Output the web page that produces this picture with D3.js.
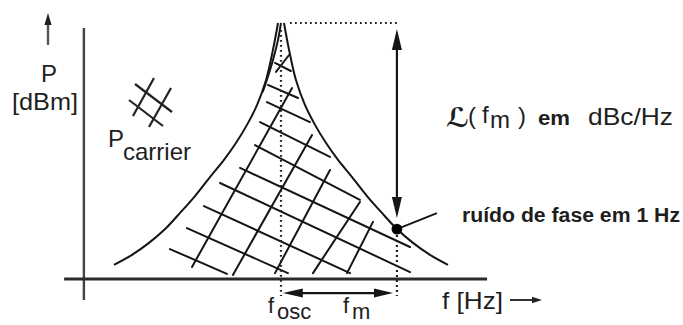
<!DOCTYPE html>
<html>
<head>
<meta charset="utf-8">
<script src="https://cdn.jsdelivr.net/npm/d3@7"></script>
<style>
  html, body { margin: 0; padding: 0; background: #fff; overflow: hidden; }
  svg { display: block; }
  text { font-family: "Liberation Sans", Arial, Helvetica, sans-serif; fill: #1e1e1e; }
</style>
</head>
<body>
<svg id="chart" width="683" height="325"></svg>
<script>
// ---- data -------------------------------------------------------------
// Single-sideband noise skirt: offset from the carrier (freq units) and level (dB)
const sidebandOffsets = [0.13, 0.35, 0.65, 1.04, 1.48, 1.96, 2.48, 3.09, 3.74, 4.39, 5.04, 5.74, 6.48, 7.26];
const sidebandLevels  = [0, -10.5, -22.3, -32.0, -39.8, -46.9, -53.5, -60.2, -67.6, -74.2, -80.5, -85.9, -90.6, -94.5];

// inner edge of the narrow carrier peak (left flank)
const peakEdgeOffsets = [0, -0.13, -0.35, -0.62, -0.8];
const peakEdgeLevels  = [0, -6.6, -14.5, -22.3, -27];

const carrierLevel = 0;      // P carrier
const fOsc = 0;              // oscillator frequency
const fm = 5.04;             // offset frequency
const noiseAtFm = -80.5;     // L(fm)
const floorLevel = -100;     // level of the frequency axis

// cross-hatch of the noise power: [offset1, level1, offset2, level2]
const hatchDown = [
  [-0.26, -15.6, 0.43, -18.75],
  [-0.57, -24.2, 0.74, -29.3],
  [-0.61, -30.9, 1.26, -38.7],
  [-0.91, -38.7, 2.13, -52.3],
  [-1.13, -47.7, 3.43, -69.1],
  [-1.78, -56.6, 5.61, -87.5],
  [-2.65, -62.5, 5.61, -97.3],
  [-3.35, -71.5, 3.00, -97.7],
  [-4.09, -80.1, 0.30, -97.7],
  [-4.83, -88.3, -2.35, -98.0]
];
const hatchUp = [
  [-3.87, -95.3, 0.48, -25.4],
  [-2.09, -98.4, 1.35, -43.75],
  [-0.26, -97.7, 2.13, -57.4],
  [1.39, -97.7, 3.43, -69.9],
  [2.87, -97.7, 4.00, -77.7],
  [-0.22, -19.1, 0.35, -12.5]
];

// axis extents
const freqAxisExtent = [-9.43, 8.96];
const powerAxisExtent = [-108.2, -2.0];
const powerAxisAt = -8.57;

// ---- scales -----------------------------------------------------------
const x = d3.scaleLinear().domain([-9, 9]).range([74, 488]);
const y = d3.scaleLinear().domain([-100, 0]).range([279, 23]);

const svg = d3.select("#chart");
const ink = "#151515";

function arrowHead(g, tx, ty, dx, dy, len, half, fill) {
  const bx = tx - dx * len, by = ty - dy * len;
  const px = -dy * half, py = dx * half;
  g.append("path")
    .attr("d", `M${tx},${ty}L${bx + px},${by + py}L${bx - px},${by - py}Z`)
    .attr("fill", fill || ink);
}

// ---- axes -------------------------------------------------------------
svg.append("line")
  .attr("x1", x(powerAxisAt)).attr("x2", x(powerAxisAt))
  .attr("y1", y(powerAxisExtent[0])).attr("y2", y(powerAxisExtent[1]))
  .attr("stroke", "#444").attr("stroke-width", 2.4);

svg.append("line")
  .attr("x1", x(freqAxisExtent[0])).attr("x2", x(freqAxisExtent[1]))
  .attr("y1", y(floorLevel)).attr("y2", y(floorLevel))
  .attr("stroke", "#2a2a2a").attr("stroke-width", 2.8);

// ---- cross-hatch ------------------------------------------------------
svg.append("g").selectAll("line")
  .data(hatchDown.concat(hatchUp))
  .join("line")
  .attr("x1", d => x(d[0])).attr("y1", d => y(d[1]))
  .attr("x2", d => x(d[2])).attr("y2", d => y(d[3]))
  .attr("stroke", ink).attr("stroke-width", 2).attr("stroke-linecap", "round");

// ---- noise skirts -----------------------------------------------------
const skirt = d3.line()
  .x(d => x(d[0])).y(d => y(d[1]))
  .curve(d3.curveCatmullRom.alpha(0.5));

const upper = sidebandOffsets.map((o, i) => [fOsc + o, sidebandLevels[i]]);
const lower = sidebandOffsets.map((o, i) => [fOsc - o, sidebandLevels[i]]);
const edge = peakEdgeOffsets.map((o, i) => [fOsc + o, peakEdgeLevels[i]]);

svg.append("g").selectAll("path")
  .data([upper, lower, edge])
  .join("path")
  .attr("d", skirt)
  .attr("fill", "none").attr("stroke", ink).attr("stroke-width", 2);

// ---- dotted guides ----------------------------------------------------
const guides = svg.append("g")
  .attr("stroke", "#222").attr("stroke-width", 2.2).attr("stroke-dasharray", "1.8,3.2");
guides.append("line")
  .attr("x1", x(fOsc)).attr("x2", x(fOsc))
  .attr("y1", y(-2.7)).attr("y2", y(-106.6));
guides.append("line")
  .attr("x1", x(fm)).attr("x2", x(fm))
  .attr("y1", y(noiseAtFm) + 6).attr("y2", y(-106.6));
guides.append("line")
  .attr("x1", x(0.39)).attr("x2", x(fm))
  .attr("y1", y(carrierLevel)).attr("y2", y(carrierLevel));

// ---- L(fm) arrow ------------------------------------------------------
const arrows = svg.append("g");
const vTop = y(-2.3), vBot = y(-76.2), ax = x(fm);
arrows.append("line")
  .attr("x1", ax).attr("x2", ax).attr("y1", vTop + 18).attr("y2", vBot - 18)
  .attr("stroke", ink).attr("stroke-width", 2.2);
arrowHead(arrows, ax, vTop, 0, -1, 21, 5);
arrowHead(arrows, ax, vBot, 0, 1, 21, 5);

// ---- fm span arrow ----------------------------------------------------
const hy = y(-105.5), hl = x(fOsc + 0.08), hr = x(fm - 0.17);
arrows.append("line")
  .attr("x1", hl + 16).attr("x2", hr - 16).attr("y1", hy).attr("y2", hy)
  .attr("stroke", ink).attr("stroke-width", 2.4);
arrowHead(arrows, hl, hy, -1, 0, 20, 4.5);
arrowHead(arrows, hr, hy, 1, 0, 19, 4.5);

// ---- noise point and leader ------------------------------------------
const dotX = x(fm), dotY = y(noiseAtFm);
svg.append("line")
  .attr("x1", dotX).attr("y1", dotY).attr("x2", dotX + 40).attr("y2", dotY - 16)
  .attr("stroke", ink).attr("stroke-width", 1.8);
svg.append("circle")
  .attr("cx", dotX).attr("cy", dotY).attr("r", 5.4).attr("fill", "#000");

// ---- axis arrows ------------------------------------------------------
svg.append("line").attr("x1", 48).attr("x2", 48).attr("y1", 22).attr("y2", 45)
  .attr("stroke", "#555").attr("stroke-width", 2.4);
arrowHead(svg, 48, 13, 0, -1, 12, 3.6, "#222");

svg.append("line").attr("x1", 510).attr("x2", 534).attr("y1", 300).attr("y2", 300)
  .attr("stroke", "#333").attr("stroke-width", 2);
arrowHead(svg, 542, 300, 1, 0, 10, 3.2, "#222");

// ---- P carrier symbol -------------------------------------------------
const sym = svg.append("g").attr("stroke", "#222").attr("stroke-width", 2.2);
[[154, 78, 133, 116], [171, 88, 149, 127], [129, 100, 163, 126], [135, 84, 172, 112]]
  .forEach(s => sym.append("line")
    .attr("x1", s[0]).attr("y1", s[1]).attr("x2", s[2]).attr("y2", s[3]));

// ---- labels -----------------------------------------------------------
svg.append("text").attr("x", 49).attr("y", 82).attr("text-anchor", "middle")
  .attr("font-size", 24).text("P");
svg.append("text").attr("x", 12).attr("y", 110)
  .attr("font-size", 24).attr("textLength", 66).attr("lengthAdjust", "spacingAndGlyphs")
  .text("[dBm]");

const pc = svg.append("text").attr("font-size", 24);
pc.append("tspan").attr("x", 108).attr("y", 147).text("P");
pc.append("tspan").attr("x", 123).attr("y", 160).text("carrier");

const lf = svg.append("text").attr("font-size", 24);
lf.append("tspan").attr("x", 446).attr("y", 127)
  .attr("font-family", "DejaVu Serif, DejaVu Sans, serif").attr("font-style", "italic")
  .attr("font-weight", "bold").attr("font-size", 27).text("ℒ");
lf.append("tspan").attr("x", 468).attr("y", 124).text("(");
lf.append("tspan").attr("x", 482).attr("y", 123).text("f");
lf.append("tspan").attr("x", 490).attr("y", 128).text("m");
lf.append("tspan").attr("x", 518).attr("y", 124).text(")");
svg.append("text").attr("x", 538).attr("y", 125).attr("font-size", 20).attr("font-weight", "bold")
  .attr("textLength", 32).attr("lengthAdjust", "spacingAndGlyphs").text("em");
svg.append("text").attr("x", 588).attr("y", 125).attr("font-size", 24)
  .attr("textLength", 85).attr("lengthAdjust", "spacingAndGlyphs").text("dBc/Hz");

svg.append("text").attr("x", 462).attr("y", 222).attr("font-size", 20).attr("font-weight", "bold")
  .attr("textLength", 218).attr("lengthAdjust", "spacingAndGlyphs").text("ruído de fase em 1 Hz");

svg.append("text").attr("x", 442).attr("y", 309).attr("font-size", 24)
  .attr("textLength", 61).attr("lengthAdjust", "spacingAndGlyphs").text("f [Hz]");

// frequency markers under the axis
const fo = svg.append("text").attr("font-size", 22);
fo.append("tspan").attr("x", 268).attr("y", 313).text("f");
fo.append("tspan").attr("x", 277).attr("y", 319).text("osc");
const fmL = svg.append("text").attr("font-size", 22);
fmL.append("tspan").attr("x", 343).attr("y", 313).text("f");
fmL.append("tspan").attr("x", 352).attr("y", 319).text("m");
</script>
</body>
</html>
